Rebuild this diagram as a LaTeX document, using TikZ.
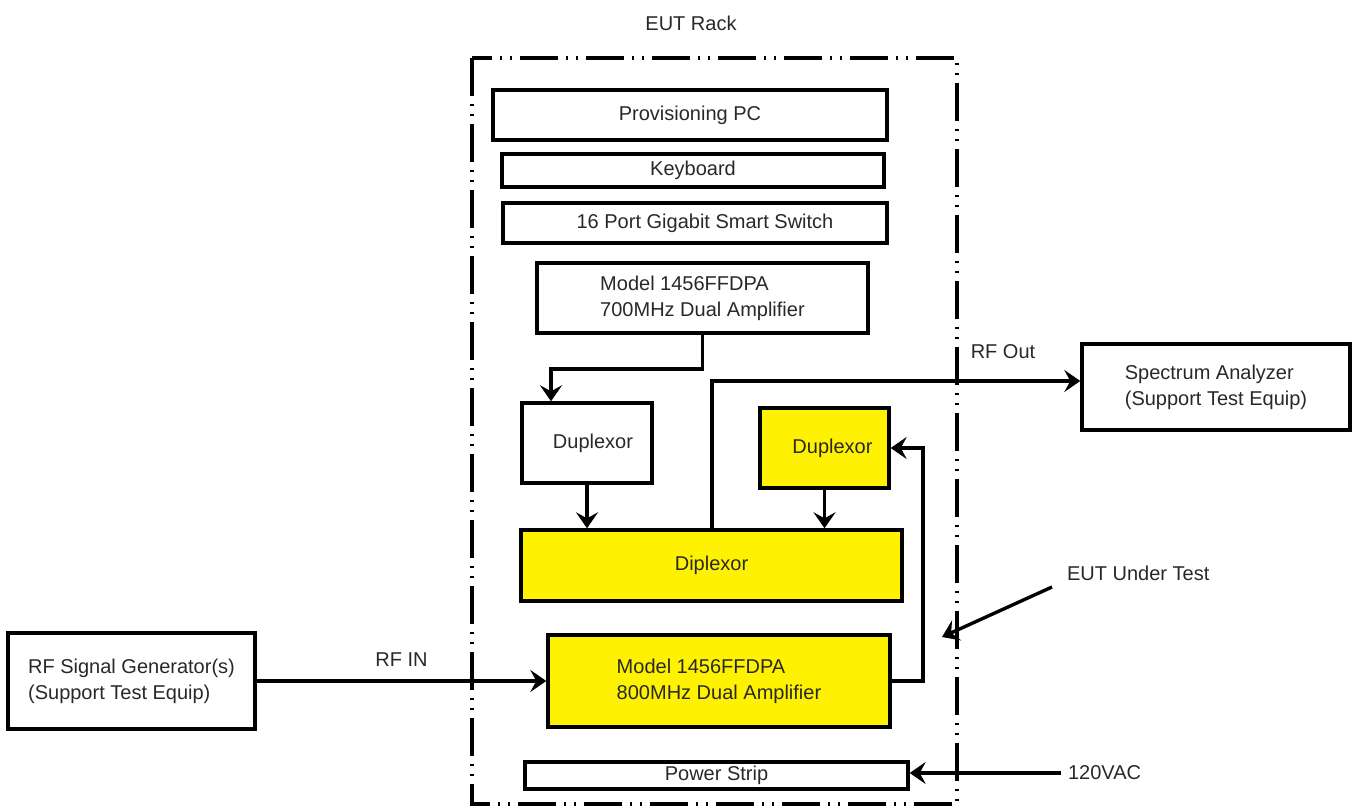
\documentclass[tikz,border=0pt]{standalone}
\usepackage{fontspec}
\setmainfont{Liberation Sans}
\usetikzlibrary{arrows.meta}
\definecolor{txtgray}{RGB}{40,40,40}

\begin{document}
\begin{tikzpicture}[x=0.5pt, y=-0.5pt, font=\fontsize{10}{13}\selectfont, text=txtgray]
    \tikzset{unit/.style={draw, line width=1.7pt, inner sep=0pt, align=center},
             hot/.style={unit, fill=yellow},
             rack/.style={draw, line width=1.7pt, dash pattern=on 19pt off 4pt on 1pt off 4pt on 1pt off 4pt},
             wire/.style={->, > = {Stealth[length=8pt, width=11pt, inset=3pt]}, line width=1.7pt}}
    \useasboundingbox (0,0) rectangle (1356,808);

    \draw[rack] (472,58) rectangle (957,804);
    \node at (691,23) (title) {EUT Rack};

    \node[unit, minimum width=197pt, minimum height=25pt] at (690,115) (pc) {Provisioning PC};
    \node[unit, minimum width=191pt, minimum height=16.5pt] at (693,170.5) (kbd) {Keyboard};
    \node[unit, minimum width=192pt, minimum height=20pt] at (695,223) (switch) {\hspace{10pt}16 Port Gigabit Smart Switch};
    \node[unit, align=left, minimum width=165.5pt, minimum height=35pt] at (702.5,298) (amp_7) {Model 1456FFDPA\\700MHz Dual Amplifier};
    \node[unit, minimum width=65pt, minimum height=40pt] at (587,443) (dup_a) {\hspace{6pt}Duplexor};
    \node[hot, minimum width=64.5pt, minimum height=40pt] at (824.5,448) (dup_b) {\hspace{8pt}Duplexor};
    \node[hot, minimum width=190.5pt, minimum height=35.5pt] at (711.5,565.5) (diplex) {Diplexor};
    \node[hot, align=left, minimum width=171pt, minimum height=46pt] at (719,681) (amp_8) {Model 1456FFDPA\\800MHz Dual Amplifier};
    \node[unit, minimum width=191.5pt, minimum height=13.5pt] at (716.5,775.5) (strip) {Power Strip};

    \node[unit, align=left, minimum width=134pt, minimum height=43pt] at (1216,387) (spec) {Spectrum Analyzer\\(Support Test Equip)};
    \node[unit, align=left, minimum width=123.5pt, minimum height=48pt] at (131.5,681) (gen) {RF Signal Generator(s)\\(Support Test Equip)};

    \node at (1003,352) (rf_out) {RF Out};
    \node[anchor=west] at (1060,573) (eut) {EUT Under Test};
    \node[anchor=west] at (1061,773) (vac) {120VAC};

    \coordinate (bend_a) at (551,369);
    \coordinate (out_top) at (712,381);
    \coordinate (loop_b) at (923,448);
    \coordinate (eut_tip) at (942,637);

    \draw[wire] (amp_7.south) |- (bend_a) -- (bend_a |- dup_a.north);
    \path[wire] (dup_a) edge (dup_a |- diplex.north);
    \path[wire] (dup_b) edge (dup_b |- diplex.north);
    \draw[wire] (diplex.north -| out_top) -- (out_top) -- (out_top -| spec.west);
    \draw[wire] (amp_8.east) -| (loop_b) -- (dup_b.east);
    \path[wire] (gen) edge node[above=3pt] (rf_in) {RF IN} (amp_8);
    \draw[wire] (vac.west) -- (vac.west -| strip.east);
    \draw[wire] ([shift={(-8,14)}]eut.west) -- (eut_tip);
\end{tikzpicture}
\end{document}
